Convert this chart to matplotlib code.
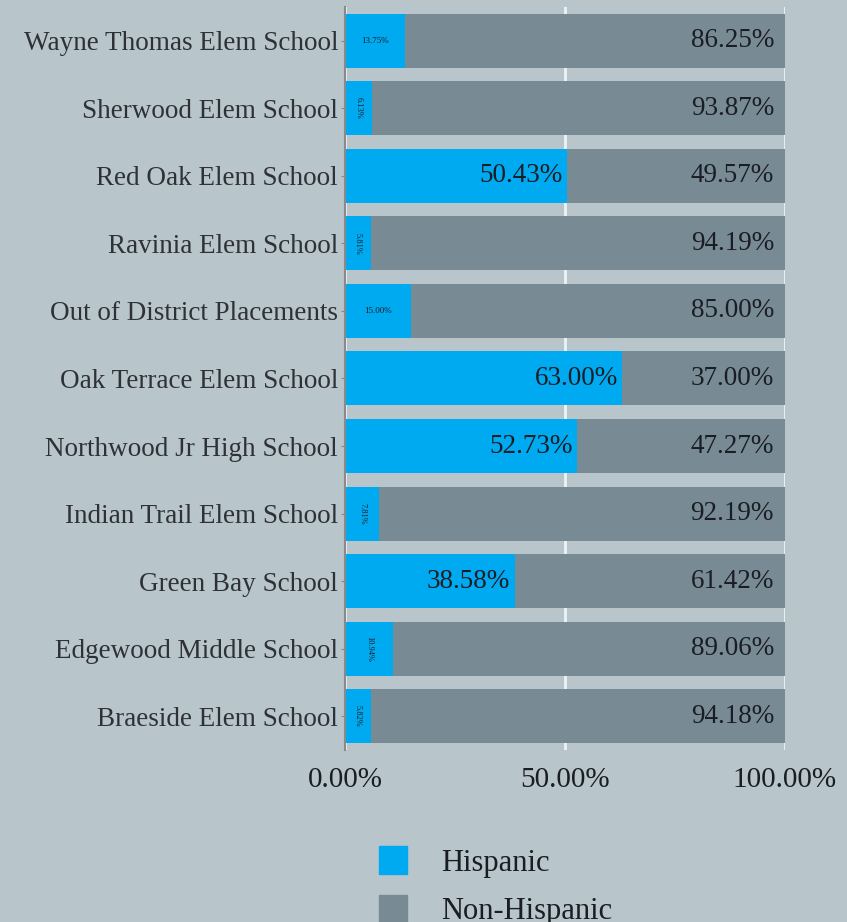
import matplotlib.pyplot as plt
import numpy as np
from matplotlib.patches import Patch

schools = ['Wayne Thomas Elem School', 'Sherwood Elem School', 'Red Oak Elem School',
           'Ravinia Elem School', 'Out of District Placements', 'Oak Terrace Elem School',
           'Northwood Jr High School', 'Indian Trail Elem School', 'Green Bay School',
           'Edgewood Middle School', 'Braeside Elem School']
hispanic = [13.75, 6.13, 50.43, 5.81, 15.00, 63.00, 52.73, 7.81, 38.58, 10.94, 5.82]
non_hispanic = [86.25, 93.87, 49.57, 94.19, 85.00, 37.00, 47.27, 92.19, 61.42, 89.06, 94.18]

bg = '#b8c5cb'
c_hisp = '#00aaf0'
c_non = '#788b95'
txt = '#1a1d24'

plt.rcParams['font.family'] = ['Liberation Serif', 'DejaVu Serif']

fig = plt.figure(figsize=(8.47, 9.22), dpi=100, facecolor=bg)
ax = fig.add_axes([0.4073, 0.1866, 0.5195, 0.8058], facecolor=bg)

y = np.arange(len(schools))[::-1]
ax.barh(y, hispanic, height=0.8, color=c_hisp, zorder=2)
ax.barh(y, non_hispanic, left=hispanic, height=0.8, color=c_non, zorder=2)

# value labels inside the bars
for yi, h, n in zip(y, hispanic, non_hispanic):
    ax.text(97.5, yi, f'{n:.2f}%', ha='right', va='center', fontsize=19.5, color=txt, zorder=3)
    if h > 30:
        ax.text(h - 1, yi, f'{h:.2f}%', ha='right', va='center', fontsize=19.5, color=txt, zorder=3)
    elif h > 12:
        ax.text(h / 2, yi, f'{h:.2f}%', ha='center', va='center', fontsize=6.5, color=txt, zorder=3)
    else:
        ax.text(h / 2, yi, f'{h:.2f}%', ha='center', va='center', fontsize=6, rotation=-90,
                color=txt, zorder=3)

ax.set_xlim(0, 100)
ax.set_ylim(-0.5, len(schools) - 0.5)
ax.set_xticks([0, 50, 100])
ax.set_xticklabels(['0.00%', '50.00%', '100.00%'], fontsize=21, color=txt)
ax.set_yticks(y)
ax.set_yticklabels(schools, fontsize=19.5, color='#2e3238')
ax.grid(axis='x', color='#eef2f4', linewidth=2, zorder=1)
ax.tick_params(axis='x', length=0, pad=12)
ax.tick_params(axis='y', length=3, color='#888888', pad=2)
for s in ['top', 'right', 'bottom']:
    ax.spines[s].set_visible(False)
ax.spines['left'].set_color('#8a8a8a')
ax.spines['left'].set_linewidth(1.5)

handles = [Patch(color=c_hisp, label='Hispanic'), Patch(color=c_non, label='Non-Hispanic')]
fig.legend(handles=handles, loc='upper left', bbox_to_anchor=(0.4475, 0.082), frameon=False,
           fontsize=22, handlelength=0.92, handleheight=1.0, labelspacing=0.57, handletextpad=1.1,
           borderpad=0, borderaxespad=0, labelcolor=txt)

fig.savefig('out.png', dpi=100, facecolor=bg)
